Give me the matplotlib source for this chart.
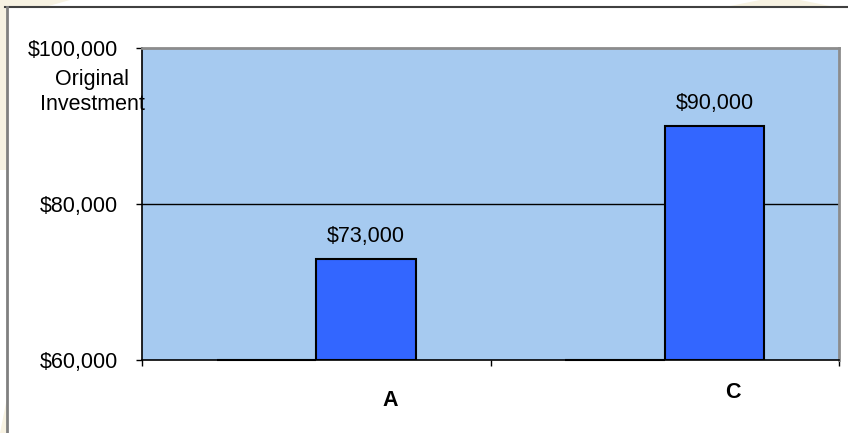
import numpy as np
import matplotlib.pyplot as plt
from matplotlib.patches import Rectangle, Polygon

plt.rcParams['font.family'] = ['Liberation Sans', 'DejaVu Sans']

# chart data
categories = ['A', 'C']
original = [60000, 60000]
current = [73000, 90000]
value_labels = ['$73,000', '$90,000']
yticks = [60000, 80000, 100000]
ytick_labels = ['$60,000', '$80,000', '$100,000']

fs = 15.5

fig = plt.figure(figsize=(8.48, 4.33), dpi=100)
fig.patch.set_facecolor('white')

# faint slide background bits around the edges
beige = '#F7F2E2'
fig.patches.append(Rectangle((0, 1 - 170 / 433), 7 / 848, 170 / 433, transform=fig.transFigure,
                             facecolor=beige, edgecolor='none'))
fig.patches.append(Polygon([(0, 1), (70 / 848, 1), (45 / 848, 1 - 7 / 433), (0, 1 - 7 / 433)],
                           transform=fig.transFigure, facecolor=beige, edgecolor='none'))
fig.patches.append(Polygon([(725 / 848, 1 - 7 / 433), (760 / 848, 1), (800 / 848, 1), (835 / 848, 1 - 7 / 433)],
                           transform=fig.transFigure, facecolor=beige, edgecolor='none'))
fig.patches.append(Polygon([(0, 0), (7 / 848, 0), (7 / 848, 35 / 433)],
                           transform=fig.transFigure, facecolor=beige, edgecolor='none'))
# chart area border (top + left)
fig.lines.append(plt.Line2D([5 / 848, 1], [1 - 7 / 433, 1 - 7 / 433], transform=fig.transFigure,
                            color='#404040', lw=1.5))
fig.lines.append(plt.Line2D([7 / 848, 7 / 848], [0, 1 - 7 / 433], transform=fig.transFigure,
                            color='#808080', lw=2))

ax = fig.add_axes([142 / 848, (433 - 360) / 433, 697 / 848, 312 / 433])
ax.set_facecolor('#A6CAF0')

x = np.arange(len(categories))
w = 0.285
base = yticks[0]
ax.bar(x - w / 2, np.array(original) - base, w, bottom=base, color='#3366FF',
       edgecolor='black', linewidth=1.5, clip_on=False, zorder=3)
ax.bar(x + w / 2, np.array(current) - base, w, bottom=base, color='#3366FF',
       edgecolor='black', linewidth=1.5, zorder=3)

for xi, v, lab in zip(x, current, value_labels):
    ax.annotate(lab, (xi + w / 2, v), xytext=(0, 16), textcoords='offset points',
                ha='center', va='center', fontsize=fs, color='black')

ax.set_xlim(-0.5, 1.5)
ax.set_ylim(60000, 100000)
ax.set_yticks(yticks)
ax.set_yticklabels(ytick_labels, fontsize=fs)
ax.set_xticks([-0.5, 0.5, 1.5])
ax.set_xticklabels([])
ax.tick_params(axis='y', length=4, width=1, pad=13, direction='out')
ax.tick_params(axis='x', length=4, width=1, direction='out')

ax.axhline(80000, color='black', lw=1, zorder=1)

ax.spines['left'].set_color('black')
ax.spines['bottom'].set_color('black')
ax.spines['left'].set_linewidth(1.2)
ax.spines['bottom'].set_linewidth(1.2)
ax.spines['top'].set_color('#8C8C8C')
ax.spines['right'].set_color('#8C8C8C')
ax.spines['top'].set_linewidth(2)
ax.spines['right'].set_linewidth(2)

# category labels and series note placed as in the slide
fig.text(390 / 848, 1 - 400 / 433, categories[0], ha='center', va='center',
         fontsize=fs, fontweight='bold')
fig.text(733 / 848, 1 - 392 / 433, categories[1], ha='center', va='center',
         fontsize=fs, fontweight='bold')
fig.text(92 / 848, 1 - 92 / 433, 'Original\nInvestment', ha='center', va='center',
         fontsize=fs, linespacing=1.25)

fig.savefig('out.png', dpi=100, facecolor=fig.get_facecolor())
